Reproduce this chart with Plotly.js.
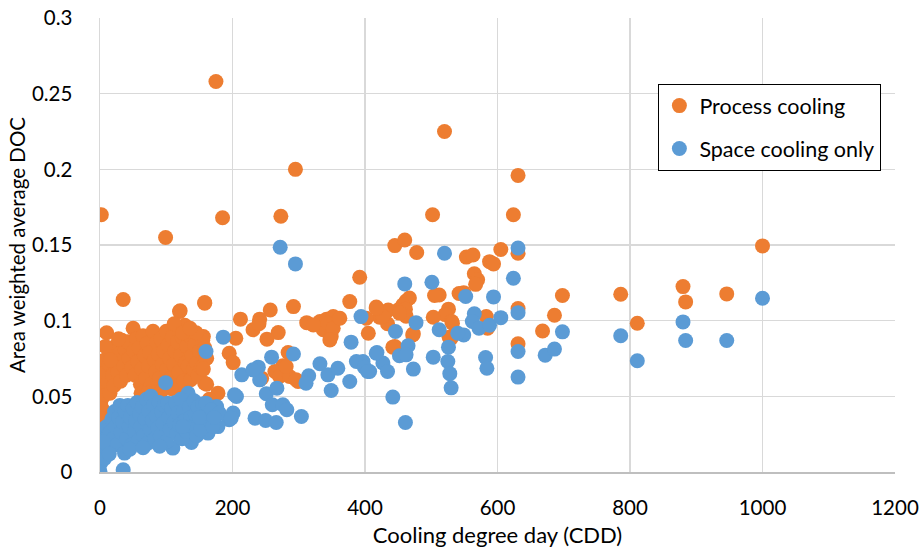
<!DOCTYPE html>
<html>
<head>
<meta charset="utf-8">
<script src="https://cdn.plot.ly/plotly-3.0.1.min.js"></script>
<style>html,body{margin:0;padding:0;background:#fff;}#chart{width:921px;height:555px;}</style>
</head>
<body>
<div id="chart"></div>
<script>
// Process cooling (orange)
const processX = [
  2,175,99,185,295,273,520,631,502,624,1000,
  605,631,553,563,588,594,565,570,567,549,512,526,521,531,583,585,631,631,527,668,686,698,786,811,880,884,946,
  445,460,478,392,505,462,467,457,417,432,422,434,450,461,462,405,473,503,442,377,402,542,472,445,532,530,435,427,452,
  158,121,212,241,231,240,257,292,269,252,205,195,201,156,161,312,332,342,359,337,349,417,284,276,264,271,286,299,244,178,158,131,141,128,133,352,344,352,347,362,322,296,281,
  1,1,2,1,2,1,2,3,4,5,3,4,6,7,10,9,12,14,15,17,19,21,23,25,27,29,31,33,35,36,38,40,42,44,48,50,51,53,55,57,59,61,63,65,67,69,71,73,75,77,80,82,84,86,88,90,92,94,96,98,100,101,103,105,107,109,111,113,115,117,119,120,122,124,126,128,129,131,133,135,137,139,141,143,146,148,150,153,155,158,160,161,165,156,158,8,16,28,62,78,108,
  145,112,125,136,92,72
];
const processY = [
  0.170,0.258,0.155,0.168,0.200,0.169,0.225,0.196,0.170,0.170,0.1494,
  0.147,0.1445,0.142,0.1434,0.139,0.1375,0.131,0.127,0.124,0.1185,0.117,0.1076,0.104,0.0994,0.1027,0.095,0.108,0.0847,0.089,0.0932,0.1036,0.1166,0.1175,0.0983,0.1225,0.1124,0.1177,
  0.1496,0.1533,0.145,0.1287,0.1166,0.113,0.115,0.1104,0.109,0.106,0.1023,0.098,0.107,0.1076,0.103,0.0917,0.0913,0.1023,0.0825,0.1126,0.1016,0.118,0.0906,0.083,0.0983,0.0884,0.107,0.1027,0.105,
  0.1115,0.1066,0.101,0.101,0.094,0.098,0.107,0.1093,0.0921,0.0878,0.0884,0.0785,0.0723,0.0895,0.0752,0.0987,0.0994,0.101,0.1016,0.094,0.0895,0.108,0.079,0.0702,0.0664,0.0631,0.0631,0.0598,0.062,0.0521,0.0587,0.0631,0.0675,0.094,0.0829,0.1027,0.0983,0.095,0.0873,0.1016,0.0972,0.061,0.0697,
  0.019,0.030,0.039,0.046,0.054,0.061,0.069,0.064,0.057,0.050,0.042,0.035,0.027,0.074,0.092,0.066,0.060,0.071,0.052,0.078,0.064,0.057,0.083,0.072,0.066,0.078,0.060,0.087,0.114,0.070,0.081,0.064,0.086,0.075,0.069,0.095,0.080,0.064,0.088,0.073,0.082,0.058,0.068,0.090,0.077,0.062,0.085,0.070,0.079,0.058,0.093,0.074,0.066,0.086,0.078,0.062,0.088,0.071,0.080,0.057,0.093,0.068,0.084,0.075,0.062,0.089,0.071,0.080,0.056,0.086,0.066,0.106,0.077,0.089,0.060,0.097,0.072,0.083,0.070,0.090,0.061,0.077,0.068,0.084,0.072,0.064,0.080,0.069,0.087,0.112,0.075,0.058,0.048,0.068,0.082,0.083,0.074,0.088,0.052,0.053,0.055,
  0.092,0.098,0.092,0.095,0.053,0.052
];
// Space cooling only (blue)
const spaceX = [
  520,631,624,552,594,565,562,572,588,605,549,512,526,525,528,530,582,584,631,631,631,672,686,698,786,811,880,884,946,1000,
  460,501,394,477,446,465,452,462,418,397,407,427,434,473,503,442,461,540,
  272,295,186,160,379,259,292,214,239,241,332,344,359,315,377,349,387,399,404,417,206,251,267,260,276,282,304,234,250,266,201,195,176,178,231,311,163,138,110,99,133,
  0,1,2,1,3,2,5,7,35,
  8,10,12,15,18,20,22,24,26,28,30,32,34,37,38,40,42,44,46,48,50,52,54,56,58,60,62,64,66,68,70,72,74,76,77,79,81,83,85,87,89,91,93,95,97,100,102,104,106,108,112,114,116,118,120,122,124,126,128,130,135,137,140,142,144,146,148,150,152,155,157,160,165,168,170,180,198,203,
  5,14,45,65,90,125,150,172
];
const spaceY = [
  0.1445,0.148,0.128,0.116,0.1157,0.1045,0.0994,0.095,0.097,0.102,0.0906,0.094,0.0825,0.073,0.065,0.0556,0.0757,0.0686,0.1053,0.0796,0.0627,0.0772,0.0812,0.0926,0.090,0.0735,0.0992,0.0869,0.0869,0.1148,
  0.1243,0.1254,0.1027,0.0987,0.0928,0.0834,0.0768,0.0774,0.079,0.073,0.0664,0.072,0.0664,0.068,0.0759,0.0495,0.0327,0.0917,
  0.1485,0.1375,0.0891,0.0796,0.0858,0.0759,0.078,0.0642,0.0693,0.0609,0.0715,0.0642,0.0686,0.0636,0.0598,0.0539,0.073,0.0693,0.0664,0.0785,0.0499,0.0517,0.0554,0.0444,0.0444,0.0411,0.0367,0.0356,0.034,0.0327,0.039,0.0345,0.0433,0.030,0.0675,0.0587,0.0257,0.0195,0.0158,0.059,0.052,
  0.0004,0.006,0.012,0.018,0.024,0.028,0.015,0.009,0.0015,
  0.022,0.030,0.018,0.026,0.035,0.022,0.040,0.030,0.018,0.036,0.044,0.026,0.033,0.0125,0.040,0.022,0.044,0.030,0.036,0.018,0.042,0.027,0.034,0.046,0.021,0.038,0.030,0.043,0.024,0.035,0.048,0.019,0.040,0.028,0.050,0.034,0.044,0.022,0.037,0.029,0.046,0.024,0.040,0.032,0.044,0.020,0.0455,0.036,0.028,0.042,0.033,0.046,0.025,0.039,0.031,0.048,0.022,0.040,0.034,0.027,0.043,0.036,0.030,0.047,0.038,0.024,0.043,0.033,0.028,0.045,0.037,0.0455,0.034,0.041,0.030,0.039,0.0356,0.051,
  0.020,0.012,0.015,0.016,0.017,0.030,0.036,0.036
];
const seriesNames = ['Process cooling', 'Space cooling only'];
const xTicks = [0, 200, 400, 600, 800, 1000, 1200];
const yTicks = [0, 0.05, 0.1, 0.15, 0.2, 0.25, 0.3];
const xTickText = ['0', '200', '400', '600', '800', '1000', '1200'];
const yTickText = ['0', '0.05', '0.1', '0.15', '0.2', '0.25', '0.3'];

const FONT = 'Lato, "Open Sans", sans-serif';
const traces = [
  {x: processX, y: processY, name: seriesNames[0], type: 'scatter', mode: 'markers', legendgroup: 'a',
   marker: {color: '#ED7D31', size: 15, line: {width: 0}}},
  {x: spaceX, y: spaceY, name: seriesNames[1], type: 'scatter', mode: 'markers', legendgroup: 'b',
   marker: {color: '#5B9BD5', size: 15, line: {width: 0}}}
];
const layout = {
  width: 921, height: 555,
  margin: {l: 100, r: 26, t: 18, b: 83, pad: 0},
  paper_bgcolor: '#ffffff', plot_bgcolor: '#ffffff',
  font: {family: FONT, size: 20, color: '#000000'},
  showlegend: true,
  legend: {x: 0.702, y: 0.855, xanchor: 'left', yanchor: 'top', bgcolor: '#ffffff',
           bordercolor: '#000000', borderwidth: 1.3, font: {family: FONT, size: 21.5, color: '#000'},
           tracegroupgap: 12, itemwidth: 30},
  xaxis: {range: [0, 1200], tickvals: xTicks, ticktext: xTickText, showgrid: true, gridcolor: '#d9d9d9', gridwidth: 1.5,
          zeroline: false, showline: true, linecolor: '#bfbfbf', linewidth: 1.5, ticks: 'outside', ticklen: 17,
          tickcolor: 'rgba(0,0,0,0)', tickfont: {family: FONT, size: 20.5, color: '#000'},
          title: {text: 'Cooling degree day (CDD)', font: {family: FONT, size: 22, color: '#000'}, standoff: 9}},
  yaxis: {range: [0, 0.3], tickvals: yTicks, ticktext: yTickText, showgrid: true, gridcolor: '#d9d9d9', gridwidth: 1.5,
          zeroline: false, showline: true, linecolor: '#d9d9d9', linewidth: 1.5, ticks: 'outside', ticklen: 22,
          tickcolor: 'rgba(0,0,0,0)', tickfont: {family: FONT, size: 20.5, color: '#000'},
          title: {text: 'Area weighted average DOC', font: {family: FONT, size: 20.5, color: '#000'}, standoff: 0}}
};
Plotly.newPlot('chart', traces, layout, {staticPlot: true, displayModeBar: false});
</script>
</body>
</html>
